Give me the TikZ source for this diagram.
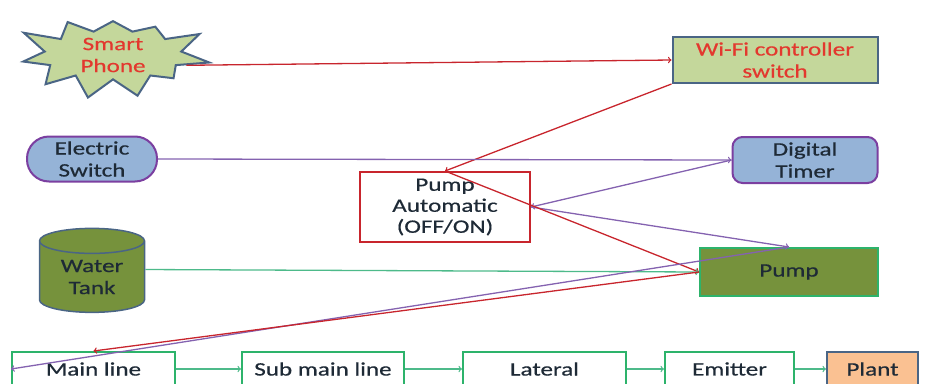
\documentclass[tikz,border=0pt]{standalone}
\usepackage{fontspec}
\setmainfont[FakeStretch=1.32,FakeBold=0.5]{Carlito}
\usetikzlibrary{shapes}

\definecolor{redline}{HTML}{C8252D}
\definecolor{purpleline}{HTML}{8462B0}
\definecolor{greenline}{HTML}{4DBA8A}
\definecolor{lightgreen}{HTML}{C4D79B}
\definecolor{slateblue}{HTML}{4A6585}
\definecolor{skyblue}{HTML}{95B3D7}
\definecolor{darkpurple}{HTML}{7B3FA0}
\definecolor{olive}{HTML}{76923C}
\definecolor{boxgreen}{HTML}{2DB36B}
\definecolor{peach}{HTML}{FAC192}
\definecolor{inkdark}{HTML}{1E2A36}
\definecolor{textred}{HTML}{E3382E}

\begin{document}
\begin{tikzpicture}[x=1pt,y=-1pt,auto,
  every node/.style={font=\fontsize{19}{22}\selectfont, align=center, inner sep=0pt, text=inkdark},
  redbox/.style={draw=slateblue, fill=lightgreen, line width=2pt, text=textred},
  bluebox/.style={draw=darkpurple, fill=skyblue, line width=2pt},
  flowbox/.style={draw=boxgreen, fill=white, line width=2pt, minimum height=34pt},
  redarrow/.style={->, draw=redline, line width=1.3pt},
  purplearrow/.style={->, draw=purpleline, line width=1.3pt},
  greenarrow/.style={->, draw=greenline, line width=1.3pt}]
\useasboundingbox (0,0) rectangle (939,383);
\clip (0,0) rectangle (939,383);

\node [redbox, starburst, starburst points=11, starburst point height=30pt,
  random starburst=3, minimum width=198pt, minimum height=92pt] (PHONE) at (113,55) {Smart\\Phone};
\node [redbox, rectangle, minimum width=205pt, minimum height=46pt] (WIFI) at (775,60) {Wi-Fi controller\\switch};
\node [bluebox, rectangle, rounded corners=22pt, minimum width=130pt, minimum height=45pt] (ESWITCH) at (92,159) {Electric\\Switch};
\node [bluebox, rectangle, rounded corners=10pt, minimum width=145pt, minimum height=46pt] (TIMER) at (805,160) {Digital\\Timer};
\node [draw=redline, fill=white, line width=2pt, minimum width=170pt, minimum height=70pt,
  font=\fontsize{19}{21}\selectfont] (AUTO) at (445,207) {Pump\\Automatic\\(OFF/ON)};
\node [cylinder, shape border rotate=90, aspect=0.4, draw=slateblue, fill=olive, line width=1.5pt,
  minimum width=105pt, minimum height=84pt] (TANK) at (92,277) {Water\\Tank};
\node [draw=boxgreen, fill=olive, line width=2pt, minimum width=178pt, minimum height=48pt] (PUMP) at (789,272) {Pump};

\node [flowbox, minimum width=163pt] (MAIN) at (93.5,369) {Main line};
\node [flowbox, minimum width=162pt] (SUBMAIN) at (323,369) {Sub main line};
\node [flowbox, minimum width=163pt] (LATERAL) at (544.5,369) {Lateral};
\node [flowbox, minimum width=129pt] (EMITTER) at (729.5,369) {Emitter};
\node [flowbox, draw=slateblue, fill=peach, minimum width=91pt] (PLANT) at (872.5,369) {Plant};

\draw [redarrow] (PHONE.-8) to (WIFI.west);
\draw [redarrow] (WIFI.south west) to (AUTO.north);
\draw [purplearrow] (ESWITCH.east) to (TIMER.west);
\draw [purplearrow] (TIMER.west) to (AUTO.east);
\draw [purplearrow] (AUTO.east) to (PUMP.north);
\draw [redarrow] (AUTO.north) to (PUMP.west);
\draw [greenarrow] (TANK.8) to (PUMP.west);
\draw [purplearrow] (PUMP.north) to (MAIN.west);
\draw [redarrow] (PUMP.west) to (MAIN.north);

\draw [greenarrow] (MAIN) to (SUBMAIN);
\draw [greenarrow] (SUBMAIN) to (LATERAL);
\draw [greenarrow] (LATERAL) to (EMITTER);
\draw [greenarrow] (EMITTER) to (PLANT);
\end{tikzpicture}
\end{document}
